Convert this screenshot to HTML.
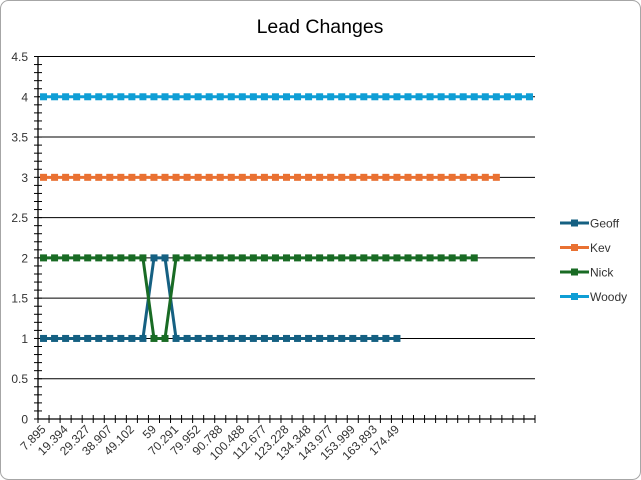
<!DOCTYPE html>
<html><head><meta charset="utf-8"><style>
body{margin:0;background:#fff;}
svg{display:block;font-family:"Liberation Sans",sans-serif;}
</style></head><body>
<svg id="chart" width="641" height="480" viewBox="0 0 641 480">
<rect x="0.5" y="0.5" width="640" height="479" rx="8" fill="#fff" stroke="#a6a6a6"/>
<text x="320" y="33" text-anchor="middle" font-size="19.5" fill="#000">Lead Changes</text>
<g id="grid"></g><g id="axes"></g><g id="series"></g><g id="legend"></g>
</svg>
<script>
const categoryCount = 45;
const xLabels = ["7.895","19.394","29.327","38.907","49.102","59","70.291","79.952","90.788","100.488","112.677","123.228","134.348","143.977","153.999","163.893","174.49"];
const yTicks = [0,0.5,1,1.5,2,2.5,3,3.5,4,4.5];
const seriesNames = ["Geoff","Kev","Nick","Woody"];
const seriesColors = ["#156082","#E97132","#196B24","#0F9ED5"];
const geoff = [1,1,1,1,1,1,1,1,1,1,2,2,1,1,1,1,1,1,1,1,1,1,1,1,1,1,1,1,1,1,1,1,1];
const kev = [3,3,3,3,3,3,3,3,3,3,3,3,3,3,3,3,3,3,3,3,3,3,3,3,3,3,3,3,3,3,3,3,3,3,3,3,3,3,3,3,3,3];
const nick = [2,2,2,2,2,2,2,2,2,2,1,1,2,2,2,2,2,2,2,2,2,2,2,2,2,2,2,2,2,2,2,2,2,2,2,2,2,2,2,2];
const woody = [4,4,4,4,4,4,4,4,4,4,4,4,4,4,4,4,4,4,4,4,4,4,4,4,4,4,4,4,4,4,4,4,4,4,4,4,4,4,4,4,4,4,4,4,4];
const allSeries = [geoff,kev,nick,woody];

const NS="http://www.w3.org/2000/svg";
const L=38,R=535,T=56.5,B=419;
const cw=(R-L)/categoryCount;
const x=i=>L+cw*(i+0.5);
const y=v=>B-(v/4.5)*(B-T);
function mk(tag,attrs,parent){const e=document.createElementNS(NS,tag);for(const k in attrs)e.setAttribute(k,attrs[k]);parent.appendChild(e);return e;}
const grid=document.getElementById('grid'),axes=document.getElementById('axes'),ser=document.getElementById('series'),leg=document.getElementById('legend');
yTicks.forEach(v=>{
  if(v>0){const g=mk('line',{x1:L,x2:R,y1:y(v),y2:y(v),stroke:'#000','stroke-width':1},grid);
  
  }
  const t=mk('text',{x:28,y:y(v)+4.5,'text-anchor':'end','font-size':12,fill:'#333'},axes);
  
  
  t.textContent=String(v);
});
const ya=mk('line',{x1:L,x2:L,y1:T,y2:B,stroke:'#000','stroke-width':1.3},axes);


const xa=mk('line',{x1:L,x2:R,y1:B,y2:B,stroke:'#000','stroke-width':1.3},axes);


for(let k=0;k<=45;k++){const v=k*0.1;const tk=mk('line',{x1:L-4,x2:L+4,y1:y(v),y2:y(v),stroke:'#000','stroke-width':1},axes);
  
  }
for(let i=0;i<=categoryCount;i++){const xx=L+cw*i;const tk=mk('line',{x1:xx,x2:xx,y1:B-4,y2:B+4,stroke:'#000','stroke-width':1},axes);
  
  }
const step=2;
xLabels.forEach((lab,i)=>{
  const xx=x(i*step)+3, yy=B+11;
  const t=mk('text',{x:xx,y:yy,'text-anchor':'end','font-size':12,fill:'#333',transform:`rotate(-45 ${xx} ${yy})`},axes);
  
  
  t.textContent=lab;
});
allSeries.forEach((data,s)=>{
  const g=mk('g',{},ser);
  
  
  const pts=data.map((v,i)=>x(i)+','+y(v)).join(' ');
  const pl=mk('polyline',{points:pts,fill:'none',stroke:seriesColors[s],'stroke-width':3,'stroke-linejoin':'round'},g);
  
  
  data.forEach((v,i)=>{const m=mk('rect',{x:x(i)-3.5,y:y(v)-3.5,width:7,height:7,fill:seriesColors[s]},g);
    
    });
});
seriesNames.forEach((n,s)=>{
  const yy=223+s*24.5;
  const g=mk('g',{},leg);
  
  
  mk('line',{x1:560,x2:589,y1:yy,y2:yy,stroke:seriesColors[s],'stroke-width':3},g);
  mk('rect',{x:571,y:yy-3.5,width:7,height:7,fill:seriesColors[s]},g);
  const t=mk('text',{x:590,y:yy+4.5,'font-size':12,fill:'#333'},g);
  t.textContent=n;
});
</script>
</body></html>
